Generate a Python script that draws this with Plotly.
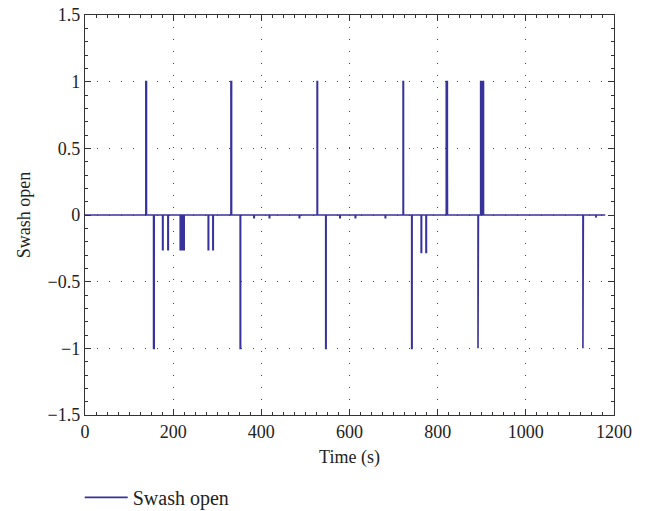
import plotly.graph_objects as go

# Pulse events of the swash-open signal: start time (s), end time (s), level
pulse_start = [138.0, 155.5, 176.0, 188.0, 216.0, 218.5, 221.0, 223.5, 279.5, 290.0,
               331.0, 352.0, 383.0, 418.0, 486.0, 526.5, 546.0, 578.0, 613.0, 681.0,
               721.5, 741.0, 762.5, 773.5, 819.5, 891.5, 897.5, 901.5, 1129.5, 1159.0]
pulse_end = [139.5, 157.0, 177.0, 189.0, 217.5, 220.0, 222.5, 225.0, 280.5, 291.0,
             332.5, 353.0, 384.0, 419.0, 487.0, 527.5, 547.0, 579.0, 614.0, 682.0,
             722.5, 742.0, 763.5, 774.5, 822.0, 892.5, 899.5, 904.0, 1130.5, 1160.0]
pulse_level = [1, -1, -0.26, -0.26, -0.26, -0.26, -0.26, -0.26, -0.26, -0.26,
               1, -1, -0.02, -0.02, -0.02, 1, -1, -0.02, -0.02, -0.02,
               1, -1, -0.28, -0.28, 1, -1, 1, 1, -1, -0.02]
# Partial returns inside two of the open events (time, level)
partial_time = [822.0, 899.5]
partial_level = [0.41, 0.07]

t_first, t_last = 0.0, 1180.0

x_ticks = [0, 200, 400, 600, 800, 1000, 1200]
y_ticks = [-1.5, -1, -0.5, 0, 0.5, 1, 1.5]
y_labels = ["\u22121.5", "\u22121", "\u22120.5", "0", "0.5", "1", "1.5"]

# Build the step signal from the pulse list
xs, ys = [t_first], [0.0]
for a, b, v in zip(pulse_start, pulse_end, pulse_level):
    xs += [a, a, b]
    ys += [0.0, v, v]
    if b in partial_time:
        lv = partial_level[partial_time.index(b)]
        xs += [b, b + 0.3, b + 0.3]
        ys += [lv, lv, 0.0]
    else:
        xs += [b]
        ys += [0.0]
xs.append(t_last)
ys.append(0.0)

font_family = "Liberation Serif"
line_col = "#38339a"
frame_col = "#333333"
grid_col = "#444444"
text_col = "#222222"

fig = go.Figure()
fig.add_trace(go.Scatter(
    x=xs, y=ys, mode="lines", name="Swash open",
    line=dict(color=line_col, width=1.6),
))

axis_common = dict(
    showline=True, linecolor=frame_col, linewidth=1.3, mirror="ticks",
    ticks="inside", ticklen=6, tickcolor=frame_col, tickwidth=1,
    showgrid=True, gridcolor=grid_col, gridwidth=1, griddash="1px,11px",
    zeroline=False,
    tickfont=dict(family=font_family, size=18, color=text_col),
)

fig.update_xaxes(
    range=[0, 1200], tickvals=x_ticks,
    title=dict(text="Time (s)", font=dict(family=font_family, size=18, color=text_col),
               standoff=9),
    minor=dict(ticks="inside", ticklen=3, dtick=25, tickcolor=frame_col, showgrid=False),
    **axis_common,
)
fig.update_yaxes(
    range=[-1.5, 1.5], tickvals=y_ticks, ticktext=y_labels,
    title=dict(text="Swash open", font=dict(family=font_family, size=18, color=text_col),
               standoff=12),
    minor=dict(ticks="inside", ticklen=3, dtick=0.1, tickcolor=frame_col, showgrid=False),
    **axis_common,
)

fig.update_layout(
    width=648, height=511,
    margin=dict(l=85, r=34, t=15, b=96, autoexpand=False),
    paper_bgcolor="white", plot_bgcolor="white",
    showlegend=True,
    legend=dict(
        x=-0.01, y=-0.206, xanchor="left", yanchor="middle",
        orientation="h", bgcolor="rgba(0,0,0,0)", itemwidth=43,
        font=dict(family=font_family, size=20, color=text_col),
    ),
)

fig.write_html("out.html")
